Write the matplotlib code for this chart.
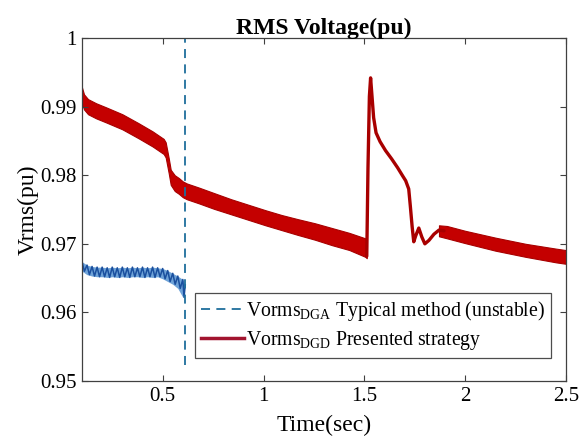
import matplotlib
matplotlib.use('Agg')
import matplotlib.pyplot as plt
import numpy as np
from matplotlib.lines import Line2D

plt.rcParams['font.family'] = ['Liberation Serif', 'DejaVu Serif']
plt.rcParams['mathtext.fontset'] = 'custom'
plt.rcParams['mathtext.rm'] = 'Liberation Serif'

# DGD voltage (presented strategy): ripple band before the disturbance
t_red1 = [0.10, 0.11, 0.13, 0.17, 0.22, 0.30, 0.38, 0.45, 0.505, 0.515, 0.53, 0.54, 0.56, 0.58, 0.60, 0.62,
          0.68, 0.755, 0.84, 0.925, 1.01, 1.09, 1.17, 1.255, 1.34, 1.425, 1.505, 1.512]
up_red1 = [0.9928, 0.9918, 0.9911, 0.9905, 0.9899, 0.9889, 0.9876, 0.9864, 0.9853, 0.9848, 0.9825, 0.9808, 0.9800, 0.9796, 0.9791, 0.9788,
           0.9782, 0.9774, 0.9765, 0.9757, 0.9749, 0.9742, 0.9736, 0.9730, 0.9723, 0.9716, 0.9708, 0.9707]
lo_red1 = [0.9905, 0.9896, 0.9889, 0.9883, 0.9877, 0.9867, 0.9854, 0.9842, 0.9831, 0.9826, 0.9803, 0.9786, 0.9777, 0.9773, 0.9768, 0.9765,
           0.9759, 0.9751, 0.9743, 0.9735, 0.9727, 0.9720, 0.9713, 0.9706, 0.9698, 0.9691, 0.9681, 0.9679]

# transient after the disturbance at t = 1.5 s
t_red2 = [1.512, 1.518, 1.525, 1.531, 1.538, 1.546, 1.558, 1.578, 1.605, 1.635, 1.665, 1.690, 1.705,
          1.720, 1.728, 1.737, 1.745, 1.755, 1.770, 1.785, 1.800, 1.820, 1.845, 1.870, 1.895]
v_red2 = [0.9682, 0.9810, 0.9915, 0.9942, 0.9915, 0.9884, 0.9862, 0.9849, 0.9836, 0.9824, 0.9811, 0.9799, 0.9792,
          0.9780, 0.9755, 0.9725, 0.9703, 0.9712, 0.9723, 0.9710, 0.9700, 0.9705, 0.9714, 0.9720, 0.9719]

# ripple band after the transient
t_red3 = [1.87, 1.91, 2.00, 2.15, 2.30, 2.45, 2.52]
up_red3 = [0.9727, 0.9726, 0.9719, 0.9709, 0.9700, 0.9693, 0.9690]
lo_red3 = [0.9711, 0.9708, 0.9701, 0.9690, 0.9681, 0.9673, 0.9670]

# DGA voltage (typical method), unstable, ripple samples up to the trip at t = 0.61 s
t_blue = [0.100, 0.112, 0.125, 0.137, 0.150, 0.162, 0.175, 0.187, 0.200, 0.212, 0.225, 0.237, 0.250,
          0.262, 0.275, 0.287, 0.300, 0.312, 0.325, 0.337, 0.350, 0.362, 0.375, 0.387, 0.400, 0.412,
          0.425, 0.437, 0.450, 0.462, 0.475, 0.487, 0.500, 0.512, 0.525, 0.537, 0.550, 0.562, 0.575,
          0.587, 0.600, 0.606, 0.612]
v_blue = [0.9674, 0.9660, 0.9669, 0.9655, 0.9667, 0.9653, 0.9666, 0.9652, 0.9666, 0.9652, 0.9665, 0.9651,
          0.9666, 0.9652, 0.9665, 0.9651, 0.9666, 0.9652, 0.9665, 0.9651, 0.9666, 0.9652, 0.9665, 0.9652,
          0.9666, 0.9651, 0.9665, 0.9652, 0.9666, 0.9651, 0.9665, 0.9652, 0.9664, 0.9649, 0.9661, 0.9645,
          0.9657, 0.9641, 0.9653, 0.9635, 0.9648, 0.9622, 0.9640]
t_trip = 0.61

red = '#c40000'
red_edge = '#a80000'
red_leg = '#a2142f'
blue = '#1a4f9e'
blue_fill = '#6fa3d8'
dash_blue = '#1f6e9c'

fig = plt.figure(figsize=(5.79, 4.43), dpi=100)
ax = fig.add_axes([0.1416, 0.14, 0.836, 0.774])

ax.fill_between(t_red1, lo_red1, up_red1, facecolor=red, edgecolor=red_edge, lw=0.8)
ax.plot(t_red2, v_red2, color=red_edge, lw=2.4, solid_joinstyle='round', solid_capstyle='round')
ax.fill_between(t_red3, lo_red3, up_red3, facecolor=red, edgecolor=red_edge, lw=0.8)

# light band between ripple peaks and troughs, zigzag on top
peaks = v_blue[::2]
troughs = v_blue[1::2] + [v_blue[-1]] * (len(peaks) - len(v_blue[1::2]))
ax.fill_between(t_blue[::2], troughs, peaks, color=blue_fill, lw=0)
ax.plot(t_blue, v_blue, color=blue, lw=1.1)
ax.plot([t_trip, t_trip], [0.9523, 1.0], color=dash_blue, lw=1.3, ls=(0, (5, 3.5)))

ax.set_xlim(0.1, 2.5)
ax.set_ylim(0.95, 1.0)
ax.set_xticks([0.5, 1, 1.5, 2, 2.5])
ax.set_xticklabels(['0.5', '1', '1.5', '2', '2.5'])
ax.set_yticks([0.95, 0.96, 0.97, 0.98, 0.99, 1.0])
ax.set_yticklabels(['0.95', '0.96', '0.97', '0.98', '0.99', '1'])
ax.tick_params(direction='in', top=True, right=True, labelsize=15, length=4,
               color='#404040', pad=4)
for s in ax.spines.values():
    s.set_color('#404040')
    s.set_linewidth(0.9)

ax.set_xlabel('Time(sec)', fontsize=17, labelpad=7)
ax.set_ylabel('Vrms(pu)', fontsize=17, labelpad=1)
ax.set_title('RMS Voltage(pu)', fontsize=17, fontweight='bold', pad=3)

handles = [Line2D([], [], color=dash_blue, lw=1.3, ls=(0, (5, 3.5))),
           Line2D([], [], color=red_leg, lw=2.5)]
labels = [r'Vorms$_{\mathrm{DGA}}$ Typical method (unstable)',
          r'Vorms$_{\mathrm{DGD}}$ Presented strategy']
leg = ax.legend(handles, labels, loc='lower left', bbox_to_anchor=(0.233, 0.067),
                fontsize=14.2, frameon=True, fancybox=False, handlelength=2.2,
                handletextpad=0.1, borderpad=0.3, labelspacing=0.3, borderaxespad=0)
leg.get_frame().set_edgecolor('#202020')
leg.get_frame().set_linewidth(0.9)

fig.savefig('out.png', dpi=100)
